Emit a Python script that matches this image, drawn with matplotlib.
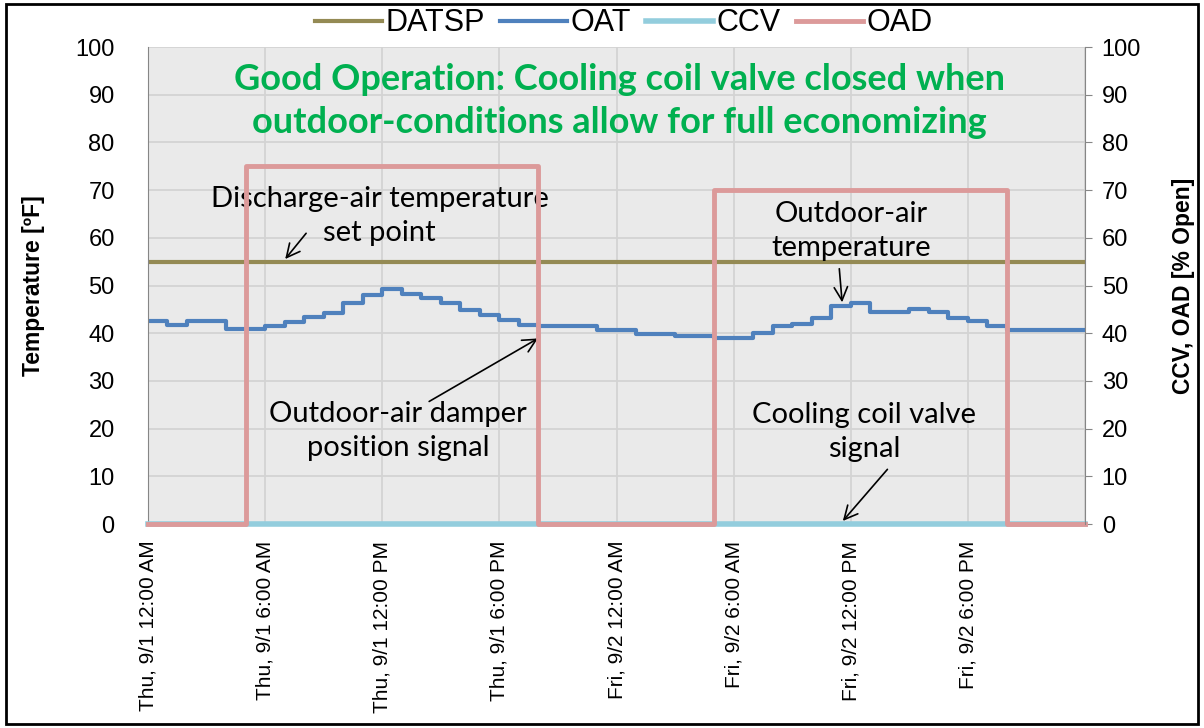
import numpy as np
import matplotlib.pyplot as plt
from matplotlib.patches import Rectangle

# hourly data, Thu 9/1 00:00 .. Sat 9/3 00:00 (value holds until next hour)
hours = list(range(49))
tick_labels = ['Thu, 9/1 12:00 AM', 'Thu, 9/1 6:00 AM', 'Thu, 9/1 12:00 PM', 'Thu, 9/1 6:00 PM',
               'Fri, 9/2 12:00 AM', 'Fri, 9/2 6:00 AM', 'Fri, 9/2 12:00 PM', 'Fri, 9/2 6:00 PM', '']
tick_hours = [0, 6, 12, 18, 24, 30, 36, 42, 48]

datsp = [55] * 49
oat = [42.6, 41.8, 42.6, 42.6, 40.8, 40.8, 41.5, 42.4, 43.5, 44.2, 46.3, 48.0,
       49.2, 48.3, 47.3, 46.3, 44.9, 43.9, 42.8, 41.7, 41.5, 41.5, 41.5, 40.7,
       40.7, 39.8, 39.8, 39.5, 39.5, 38.9, 38.9, 40.0, 41.5, 41.9, 43.1, 45.8,
       46.4, 44.5, 44.5, 45.0, 44.5, 43.1, 42.6, 41.5, 40.7, 40.7, 40.7, 40.7, 40.7]
ccv = [0] * 49
oad = [0, 0, 0, 0, 0, 75, 75, 75, 75, 75, 75, 75, 75, 75, 75, 75, 75, 75, 75, 75,
       0, 0, 0, 0, 0, 0, 0, 0, 0, 70, 70, 70, 70, 70, 70, 70, 70, 70, 70, 70, 70,
       70, 70, 70, 0, 0, 0, 0, 0]

plt.rcParams['font.family'] = ['Liberation Sans', 'DejaVu Sans']

fig = plt.figure(figsize=(12.04, 7.28), dpi=100)
ax = fig.add_axes([0.1229, 0.2802, 0.9012 - 0.1229, 0.9354 - 0.2802])
ax2 = ax.twinx()

ax.set_facecolor('#EAEAEA')
ax.grid(True, color='#D3D3D3', linewidth=1.3)
ax.set_axisbelow(True)

l1, = ax.step(hours, datsp, where='post', color='#948A54', lw=3, label='DATSP')
l2, = ax.step(hours, oat, where='post', color='#4F81BD', lw=3, label='OAT')
l3, = ax2.step(hours, ccv, where='post', color='#93CDDD', lw=4, label='CCV', clip_on=False)
l4, = ax2.step(hours, oad, where='post', color='#DC9A9A', lw=3.5, label='OAD', clip_on=False)

for a in (ax, ax2):
    a.set_xlim(0, 48)
    a.set_ylim(0, 100)
    a.set_yticks(range(0, 101, 10))
    a.tick_params(axis='y', labelsize=17, length=5, color='#868686')
    for s in a.spines.values():
        s.set_visible(False)
ax.spines['left'].set_visible(True)
ax.spines['left'].set_color('#868686')
ax2.spines['right'].set_visible(True)
ax2.spines['right'].set_color('#868686')
ax.tick_params(axis='y', length=0, pad=24)
ax2.tick_params(axis='y', pad=7)

ax.set_xticks(tick_hours)
ax.set_xticklabels(tick_labels, rotation=90, fontsize=15)
ax.tick_params(axis='x', length=0, pad=12)

ax.set_ylabel('Temperature [ºF]', fontsize=16.5, fontweight='bold', labelpad=22)
ax2.set_ylabel('CCV, OAD [% Open]', fontsize=16.5, fontweight='bold', labelpad=22)

fig.legend(handles=[l1, l2, l3, l4], loc='center', bbox_to_anchor=(0.518, 0.968),
           ncol=4, frameon=False, fontsize=22, handlelength=2.2, handletextpad=0.1,
           columnspacing=0.5)

# notes inside the plot
ax.text(24.15, 88.7, 'Good Operation: Cooling coil valve closed when\noutdoor-conditions allow for full economizing',
        ha='center', va='center', color='#00B050', fontsize=26, fontweight='bold',
        family='Lato', linespacing=1.4)

note = dict(ha='center', va='center', fontsize=21, family='Lato', linespacing=1.35)
arrow = dict(arrowstyle='->', color='black', lw=1.2, mutation_scale=24)

ax.text(11.87, 64.6, 'Discharge-air temperature\nset point', **note)
ax.annotate('', xy=(6.94, 55.1), xytext=(8.19, 61.4), arrowprops=arrow)

ax.text(36.0, 61.4, 'Outdoor-air\ntemperature', **note)
ax.annotate('', xy=(35.57, 45.9), xytext=(35.4, 54.1), arrowprops=arrow)

ax.text(12.8, 19.5, 'Outdoor-air damper\nposition signal', **note)
ax.annotate('', xy=(20.1, 39.2), xytext=(14.28, 25.4), arrowprops=arrow)

ax.text(36.7, 19.3, 'Cooling coil valve\nsignal', **note)
ax.annotate('', xy=(35.5, 0.2), xytext=(37.97, 11.9), arrowprops=arrow)

# outer frame
fig.patches.append(Rectangle((0.005, 0.006), 0.99, 0.988, transform=fig.transFigure,
                             fill=False, edgecolor='black', lw=2))

fig.savefig('out.png', dpi=100)
